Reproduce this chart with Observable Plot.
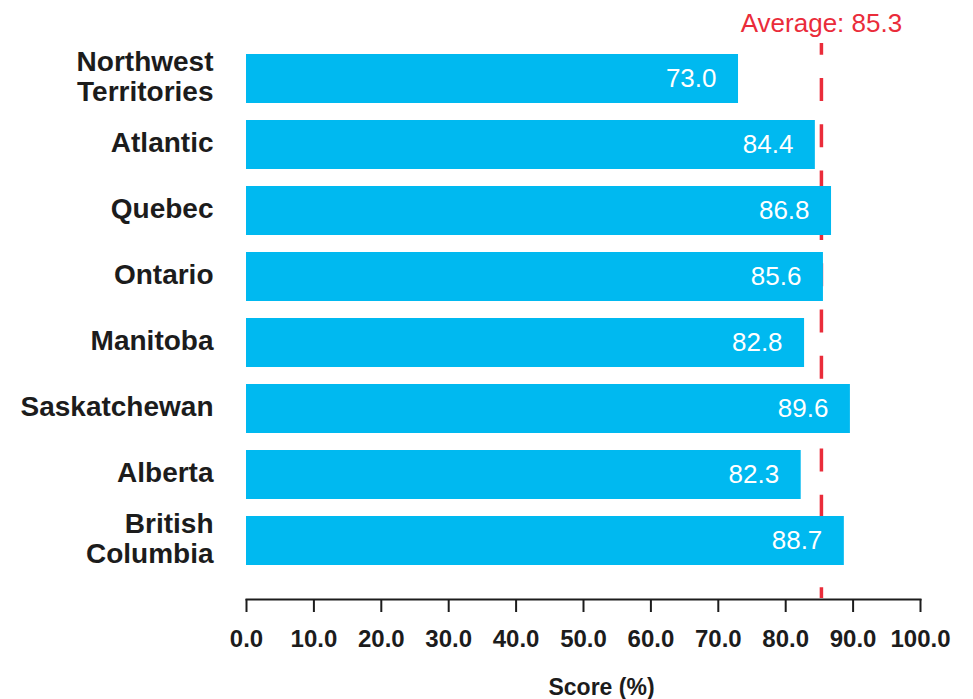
<!DOCTYPE html>
<html>
<head>
<meta charset="utf-8">
<script src="https://cdn.jsdelivr.net/npm/d3@7"></script>
<script src="https://cdn.jsdelivr.net/npm/@observablehq/plot@0.6"></script>
<style>
  html, body { margin: 0; padding: 0; background: #ffffff; }
  #chart { width: 973px; height: 699px; }
</style>
</head>
<body>
<div id="chart"></div>
<script>
// Regions, top to bottom
const regions = ["Northwest Territories", "Atlantic", "Quebec", "Ontario", "Manitoba", "Saskatchewan", "Alberta", "British Columbia"];
// Axis labels for each region (wrapped onto two lines where long)
const regionLabels = ["Northwest\nTerritories", "Atlantic", "Quebec", "Ontario", "Manitoba", "Saskatchewan", "Alberta", "British\nColumbia"];
// Score (%) per region
const scores = [73.0, 84.4, 86.8, 85.6, 82.8, 89.6, 82.3, 88.7];
// National average
const average = 85.3;
// X axis ticks
const xTicks = [0, 10, 20, 30, 40, 50, 60, 70, 80, 90, 100];

const data = regions.map((region, i) => ({region, score: scores[i]}));
const labelOf = new Map(regions.map((r, i) => [r, regionLabels[i]]));

const blue = "#00b9f0";
const red = "#ea2c3a";
const ink = "#1c1c1c";

const chart = Plot.plot({
  width: 973,
  height: 699,
  marginTop: 20,
  marginBottom: 100,
  marginLeft: 246,
  marginRight: 53,
  style: {fontFamily: "'Liberation Sans', Arial, sans-serif", background: "#ffffff", overflow: "visible", color: ink},
  x: {domain: [0, 100]},
  y: {domain: regions, paddingInner: 0.264, paddingOuter: 0.479},
  marks: [
    // dashed average line sits behind the bars
    Plot.ruleX([average], {
      stroke: red, strokeWidth: 3.5,
      strokeDasharray: "23,23.3", strokeDashoffset: 11.3,
      insetTop: 23, insetBottom: 1
    }),
    Plot.barX(data, {x: "score", y: "region", fill: blue}),
    Plot.text(data, {
      x: "score", y: "region",
      text: d => d.score.toFixed(1),
      textAnchor: "end", dx: -22,
      fill: "#ffffff", fontSize: 26
    }),
    Plot.text([average], {
      x: d => d, frameAnchor: "top", lineAnchor: "middle",
      text: d => `Average: ${d.toFixed(1)}`,
      fill: red, fontSize: 26, dy: 3
    }),
    Plot.axisY({
      tickSize: 0, tickPadding: 33,
      tickFormat: d => labelOf.get(d),
      fontSize: 28, fontWeight: "bold", lineHeight: 1.08,
      dy: -3, label: null
    }),
    Plot.axisX({
      ticks: xTicks, tickSize: 13, tickPadding: 17,
      tickFormat: d3.format(".1f"),
      fontSize: 24, fontWeight: "bold",
      strokeWidth: 2, label: null
    }),
    Plot.frame({anchor: "bottom", strokeWidth: 2}),
    Plot.text(["Score (%)"], {
      frameAnchor: "bottom", lineAnchor: "top",
      dy: 79, dx: 18, fontSize: 23, fontWeight: "bold"
    })
  ]
});

document.getElementById("chart").appendChild(chart);
</script>
</body>
</html>
